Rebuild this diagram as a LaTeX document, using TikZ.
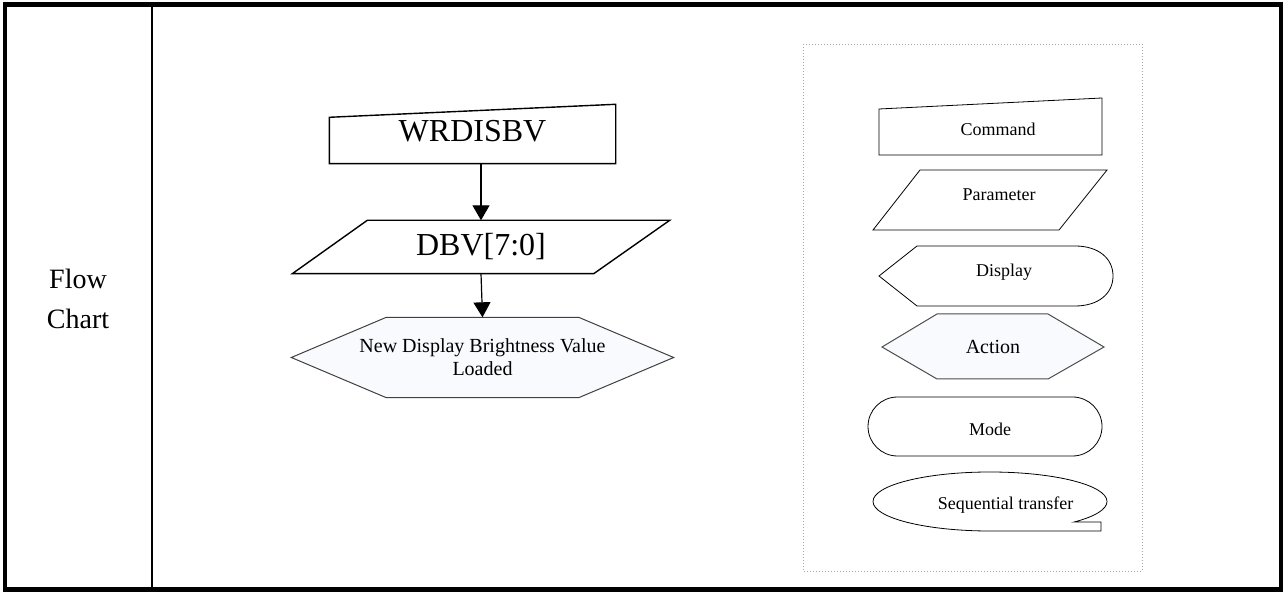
\documentclass[tikz,border=0pt]{standalone}
\usepackage{fontspec}
\setmainfont{Liberation Serif}
\usetikzlibrary{arrows.meta,backgrounds}
\definecolor{actfill}{RGB}{248,250,253}

\begin{document}
\begin{tikzpicture}[x=0.5pt, y=-0.5pt, >={Triangle[length=7.5pt,width=8.5pt]}, line width=0.7pt,
  box/.style={inner sep=0pt},
  legtxt/.style={anchor=base, font=\fontsize{9}{11}\selectfont}]
\useasboundingbox (0,0) rectangle (1283,592);

\draw[line width=2.3pt] (5,4.5) rectangle (1281,589.5);
\draw[line width=1pt] (152,4.5) -- (152,589.5);
\node[anchor=base, font=\fontsize{14}{20}\selectfont] (flow) at (78,289) {Flow};
\node[anchor=base, font=\fontsize{14}{20}\selectfont] (chart) at (78,329) {Chart};

\node[box, minimum width=142.5pt, minimum height=29pt, text depth=3pt, font=\fontsize{16}{19}\selectfont] (wrd) at (472.5,134) {WRDISBV};
\draw (wrd.south west) -- (wrd.south east) -- (wrd.north east) -- ([yshift=-6.5pt]wrd.north west) -- cycle;
\node[box, minimum width=188pt, minimum height=26pt, font=\fontsize{16}{19}\selectfont] (dbv) at (481,247) {DBV[7:0]};
\draw ([xshift=37.5pt]dbv.north west) -- (dbv.north east) -- ([xshift=-38pt]dbv.south east) -- (dbv.south west) -- cycle;
\node[box, minimum width=190.5pt, minimum height=39.5pt, align=center, font=\fontsize{10}{11.5}\selectfont] (nbv) at (482.5,357.5) {New Display Brightness Value\\Loaded};
\begin{pgfonlayer}{background}
\draw[fill=actfill, draw=black!75, line width=0.5pt] (nbv.west) -- ([xshift=47.5pt]nbv.north west) -- ([xshift=-47.5pt]nbv.north east) -- (nbv.east) -- ([xshift=-47.5pt]nbv.south east) -- ([xshift=47.5pt]nbv.south west) -- cycle;
\end{pgfonlayer}

\draw[->, line width=0.6pt] (dbv.north |- wrd.south) -- (dbv.north);
\draw[->, line width=0.6pt] (dbv.south) -- (nbv.north);

\draw[gray!70, line width=0.4pt, dash pattern=on 0.5pt off 1pt] (803,44) rectangle (1142,571);

\draw (879,155) -- (1102,155) -- (1102,98) -- (879,109) -- cycle;
\node[legtxt] (cmd) at (998,136) {Command};
\draw (920,170) -- (1107,170) -- (1059,230) -- (873,230) -- cycle;
\node[legtxt] (par) at (999,200.7) {Parameter};
\draw (879,276) -- (917,246) -- (1075,246) .. controls (1098,246) and (1113,258) .. (1113,276) .. controls (1113,294) and (1098,306) .. (1075,306) -- (917,306) -- cycle;
\node[legtxt] (dsp) at (1004,277) {Display};
\draw[fill=actfill, draw=black!70, line width=0.5pt] (882,347) -- (937,314) -- (1048,314) -- (1104,347) -- (1048,379) -- (937,379) -- cycle;
\node[legtxt, font=\fontsize{10}{12}\selectfont] (act) at (993,353.3) {Action};
\draw[rounded corners=14.75pt] (868,397) rectangle (1102,456);
\node[legtxt] (mod) at (990,435.3) {Mode};
\draw (990,531) arc[start angle=90, end angle=404, x radius=117, y radius=29.5] -- (1101,522) -- (1101,531) -- cycle;
\node[legtxt] (seq) at (1005.5,509.3) {Sequential transfer};
\end{tikzpicture}
\end{document}
